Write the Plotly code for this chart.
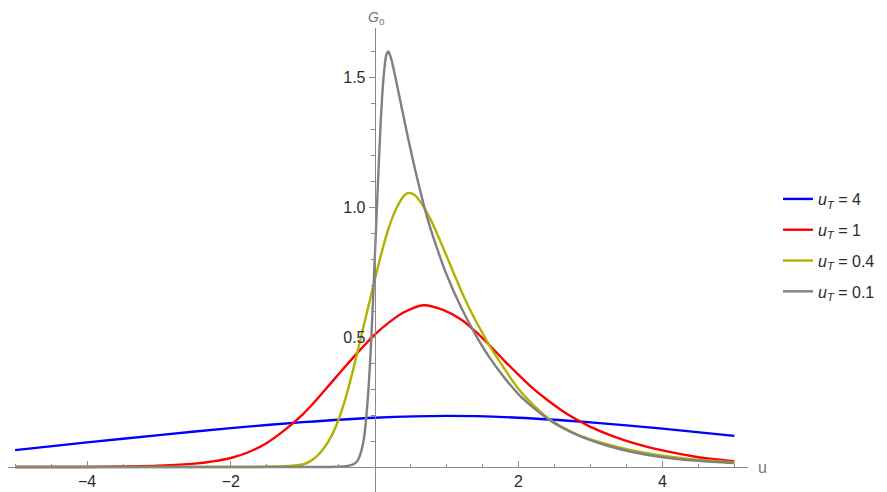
import plotly.graph_objects as go

# ---- data ----
u_blue = [-5, -4, -3, -2, -1, 0, 1, 2, 3, 4, 5]
g_blue = [0.065, 0.095, 0.123, 0.150, 0.173, 0.190, 0.197, 0.190, 0.172, 0.148, 0.120]

u_red = [-5, -4, -3.5, -3, -2.5, -2.25, -2, -1.75, -1.5, -1.25, -1.0, -0.8, -0.6, -0.4, -0.2, 0,
         0.2, 0.4, 0.68, 0.95, 1.2, 1.4, 1.6, 1.8, 2.0, 2.2, 2.4, 2.6, 2.8,
         3.0, 3.3, 3.6, 4.0, 4.5, 5.0]
g_red = [0, 0.0005, 0.002, 0.005, 0.013, 0.022, 0.035, 0.058, 0.093, 0.143, 0.203, 0.262, 0.326,
         0.39, 0.452, 0.51, 0.557, 0.595, 0.623, 0.605, 0.568, 0.522,
         0.468, 0.41, 0.355, 0.303, 0.258, 0.218, 0.184, 0.155, 0.12, 0.092, 0.064, 0.038, 0.022]

u_yel = [-5, -2, -1.5, -1.2, -1.0, -0.9, -0.8, -0.7, -0.6, -0.5, -0.4, -0.3, -0.2, -0.1, 0, 0.1,
         0.2, 0.3, 0.4, 0.46, 0.55, 0.65, 0.8, 0.9, 1.0, 1.1, 1.2, 1.3, 1.4, 1.5, 1.6, 1.8, 2.0,
         2.2, 2.4, 2.6, 2.86, 3.2, 3.55, 4.0, 4.5, 5.0]
g_yel = [0, 0, 0.001, 0.004, 0.01, 0.022, 0.043, 0.075, 0.12, 0.185, 0.27, 0.375, 0.49, 0.605,
         0.72, 0.83, 0.925, 0.995, 1.042, 1.055, 1.048, 1.015, 0.94, 0.877, 0.812, 0.745, 0.68,
         0.62, 0.565, 0.515, 0.465, 0.38, 0.30, 0.24, 0.19, 0.155, 0.12, 0.09, 0.066, 0.044,
         0.028, 0.018]

u_gray = [-5, -1.0, -0.5, -0.4, -0.3, -0.25, -0.2, -0.15, -0.1, -0.05, 0, 0.04, 0.08, 0.12, 0.16,
          0.19, 0.23, 0.28, 0.34, 0.4, 0.5, 0.6, 0.73, 0.85, 1.0, 1.2, 1.4, 1.6, 1.8, 2.0, 2.2,
          2.4, 2.6, 2.86, 3.2, 3.55, 4.0, 4.5, 5.0]
g_gray = [0, 0, 0.001, 0.003, 0.01, 0.02, 0.05, 0.11, 0.25, 0.48, 0.80, 1.06, 1.31, 1.49, 1.585,
          1.60, 1.57, 1.51, 1.43, 1.35, 1.22, 1.10, 0.96, 0.855, 0.74, 0.615, 0.51, 0.42, 0.345,
          0.28, 0.23, 0.187, 0.152, 0.118, 0.085, 0.06, 0.038, 0.024, 0.015]

series_names = ["4", "1", "0.4", "0.1"]
series_colors = ["#0000FF", "#FF0000", "#B2B200", "#808080"]

x_major = [-4, -2, 2, 4]
x_major_text = ["\u22124", "\u22122", "2", "4"]
x_minor = [-5, -4.5, -3.5, -3, -2.5, -1.5, -1, -0.5, 0.5, 1, 1.5, 2.5, 3, 3.5, 4.5, 5]
y_major = [0.5, 1.0, 1.5]
y_major_text = ["0.5", "1.0", "1.5"]
y_minor = [0.1, 0.2, 0.3, 0.4, 0.6, 0.7, 0.8, 0.9, 1.1, 1.2, 1.3, 1.4, 1.6]

xs = [u_blue, u_red, u_yel, u_gray]
ys = [g_blue, g_red, g_yel, g_gray]

AX = "#8a8a8a"
TXT = "#2b2b2b"

fig = go.Figure()
for i, (x, y) in enumerate(zip(xs, ys)):
    fig.add_trace(go.Scatter(
        x=x, y=y, mode="lines",
        line=dict(color=series_colors[i], width=2.4, shape="spline", smoothing=0.8),
        name="<i>u</i><sub><i>T</i></sub> = " + series_names[i],
        legendgroup="g%d" % i,
        hoverinfo="skip",
    ))

# page body has an 8px margin, so the figure is sized to fit the window
W, H = 879, 484
ml, mr, mt, mb = 0, 139, 20, 0
pw, ph = W - ml - mr, H - mt - mb
xr = [-5.099, 5.19]
yr = [-0.096, 1.69]
x0_paper = (0 - xr[0]) / (xr[1] - xr[0])
y0_paper = (0 - yr[0]) / (yr[1] - yr[0])

fig.update_layout(
    width=W, height=H,
    margin=dict(l=ml, r=mr, t=mt, b=mb, autoexpand=False),
    paper_bgcolor="white", plot_bgcolor="white",
    font=dict(family="Liberation Sans, Arial, sans-serif", size=16, color=TXT),
    xaxis=dict(
        range=xr, anchor="free", position=y0_paper, side="bottom",
        showline=True, linecolor=AX, linewidth=1,
        showgrid=False, zeroline=False, automargin=False,
        tickmode="array", tickvals=x_major, ticktext=x_major_text,
        ticks="inside", ticklen=6, tickcolor=AX, tickwidth=1,
        tickfont=dict(size=16, color=TXT),
        minor=dict(tickmode="array", tickvals=x_minor, ticks="inside", ticklen=3.5,
                   tickcolor=AX, tickwidth=1, showgrid=False),
        fixedrange=True,
    ),
    yaxis=dict(
        range=yr, anchor="free", position=x0_paper, side="left",
        showline=True, linecolor=AX, linewidth=1,
        showgrid=False, zeroline=False, automargin=False,
        tickmode="array", tickvals=y_major, ticktext=y_major_text,
        ticks="outside", ticklen=6, tickcolor=AX, tickwidth=1,
        tickfont=dict(size=16, color=TXT),
        minor=dict(tickmode="array", tickvals=y_minor, ticks="outside", ticklen=4,
                   tickcolor=AX, tickwidth=1, showgrid=False),
        fixedrange=True,
    ),
    showlegend=True,
    legend=dict(
        x=770 / pw, xanchor="left", y=0.5312, yanchor="middle",
        font=dict(size=16, color=TXT), tracegroupgap=7,
        bgcolor="rgba(0,0,0,0)", itemwidth=30,
    ),
    annotations=[
        dict(text="<i>G</i><sub>0</sub>", x=368 / pw, y=(ph - (10 - mt)) / ph,
             xref="paper", yref="paper", xanchor="center", yanchor="middle",
             showarrow=False, font=dict(size=14, color="#777777")),
        dict(text="u", x=754.7 / pw, y=y0_paper, xref="paper", yref="paper",
             xanchor="center", yanchor="middle", showarrow=False,
             font=dict(size=16, color="#777777")),
    ],
)

fig.write_html("out.html", config={"displayModeBar": False})
